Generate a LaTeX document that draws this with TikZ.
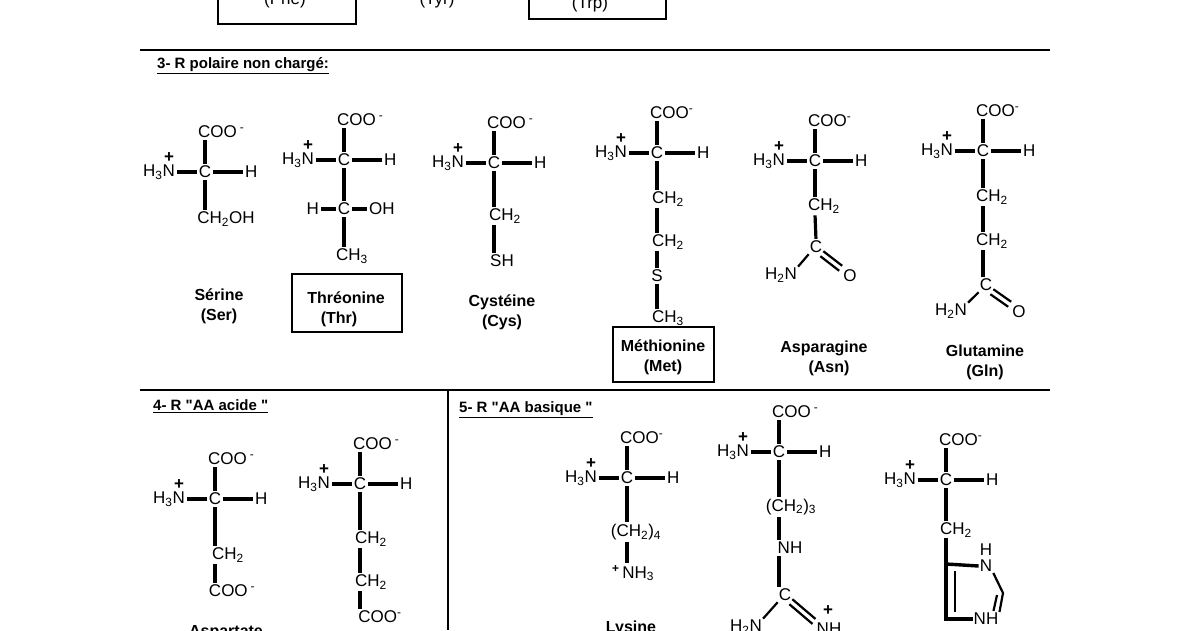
\documentclass[tikz,border=0pt]{standalone}
\usepackage{fontspec}
\newfontfamily\arial{Liberation Sans}
\usetikzlibrary{calc}
\newcommand\chemf{\arial\fontsize{17}{19}\selectfont}
\newcommand\namef{\arial\bfseries\fontsize{16}{20}\selectfont}
\newcommand\headf{\arial\bfseries\fontsize{15}{17}\selectfont}
\tikzset{t/.style={inner sep=1pt,font=\chemf},
  nm/.style={inner sep=1pt,font=\namef,align=center},
  hd/.style={inner sep=0pt,font=\headf,anchor=west},
  b/.style={line width=3.2pt,shorten <=1pt,shorten >=1pt},
  dl/.style={line width=2.2pt},
  rule/.style={line width=2.6pt},
  box/.style={draw,line width=1.8pt,inner sep=0pt}}
\newcommand\aatop[4][COO\,\textsuperscript{-}]{%
  \node[t,anchor=west] (#2-coo) at (#3-8,#4-40) {#1};
  \node[t,anchor=east] (#2-n) at (#3-29,#4) {H\textsubscript{3}N};
  \node[t] (#2-p) at (#3-36,#4-14) {\textbf{+}};
  \node[t] (#2-c) at (#3,#4) {C};
  \node[t,anchor=west] (#2-h) at (#3+39,#4) {H};
  \draw[b] (#2-c.north) -- (#2-c.north |- #2-coo.south);
  \draw[b] (#2-n) -- (#2-c);
  \draw[b] (#2-c) -- (#2-h);}
\newcommand\bd[2]{\draw[b] (#1.south) -- (#1.south |- #2.north);}
\begin{document}
\begin{tikzpicture}[x=1pt,y=-1pt]
\useasboundingbox (0,0) rectangle (1200,630);
\clip (0,0) rectangle (1200,630);
% top remnants
\node[box,minimum width=138pt,minimum height=50pt,anchor=south west] (phe) at (217,25) {};
\node[nm,font=\chemf] (phet) at (285,0) {(Phe)};
\node[nm,font=\chemf] (tyr) at (437,0) {(Tyr)};
\node[box,minimum width=137pt,minimum height=50pt,anchor=south west] (trp) at (528,20) {};
\node[nm,font=\chemf] (trpt) at (590,4) {(Trp)};
\coordinate (l1a) at (140,50); \coordinate (l1b) at (1050,50);
\draw[rule] (l1a) -- (l1b);
\node[hd] (h3) at (157,66) {\underline{3- R polaire non chargé:}};
% Serine
\aatop{ser}{205}{172}
\node[t] (ser-r) at (226,219) {CH\textsubscript{2}OH};
\draw[b] (ser-c.south) -- (ser-c.south |- ser-r.north);
\node[nm] (sern) at (219,306) {Sérine\\(Ser)};
% Threonine
\aatop{thr}{344}{160}
\node[t] (thr-c2) at (344,209) {C};
\node[t,anchor=east] (thr-h2) at (320,209) {H};
\node[t,anchor=west] (thr-oh) at (368,209) {OH};
\node[t] (thr-me) at (352,256) {CH\textsubscript{3}};
\bd{thr-c}{thr-c2}
\draw[b] (thr-h2) -- (thr-c2); \draw[b] (thr-c2) -- (thr-oh);
\bd{thr-c2}{thr-me}
\node[box,minimum width=110pt,minimum height=58pt] (thrb) at (347,303) {};
\node[nm] (thrn) at (346,309) {Thréonine\\\hspace*{-14pt}(Thr)};
% Cysteine
\aatop{cys}{494}{163}
\node[t] (cys-r) at (505,216) {CH\textsubscript{2}};
\node[t] (cys-s) at (502,261) {SH};
\bd{cys-c}{cys-r}
\draw[b] (cys-c.south |- cys-r.south) -- (cys-c.south |- cys-s.north);
\node[nm] (cysn) at (502,312) {Cystéine\\(Cys)};
% Methionine
\aatop[COO\textsuperscript{-}]{met}{657}{153}
\node[t] (met-a) at (668,199) {CH\textsubscript{2}};
\node[t] (met-b) at (668,242) {CH\textsubscript{2}};
\node[t] (met-s) at (657,276) {S};
\node[t] (met-m) at (668,318) {CH\textsubscript{3}};
\bd{met-c}{met-a}
\draw[b] (met-c.south |- met-a.south) -- (met-c.south |- met-b.north);
\draw[b] (met-c.south |- met-b.south) -- (met-s.north);
\bd{met-s}{met-m}
\node[box,fill=white,minimum width=101pt,minimum height=55pt] (metb) at (663.5,354.5) {};
\node[nm] (metn) at (663,357) {Méthionine\\(Met)};
% Asparagine
\aatop[COO\textsuperscript{-}]{asn}{815}{161}
\node[t] (asn-r) at (824,206) {CH\textsubscript{2}};
\node[t] (asn-c2) at (816,247) {C};
\node[t] (asn-n) at (781,275) {H\textsubscript{2}N};
\node[t] (asn-o) at (850,276) {O};
\bd{asn-c}{asn-r}
\draw[b] (asn-c.south |- asn-r.south) -- (asn-c2.north);
\draw[dl] (asn-c2.south west) -- (asn-n.north east);
\draw[dl] ($(asn-c2.south east)+(0,-3)$) -- ($(asn-o.north west)+(0,-3)$);
\draw[dl] ($(asn-c2.south east)+(-3,2)$) -- ($(asn-o.north west)+(-3,2)$);
\node[nm] (asnn) at (824,358) {Asparagine\\\hspace*{10pt}(Asn)};
% Glutamine
\aatop[COO\textsuperscript{-}]{gln}{983}{151}
\node[t] (gln-a) at (992,197) {CH\textsubscript{2}};
\node[t] (gln-b) at (992,241) {CH\textsubscript{2}};
\node[t] (gln-c2) at (986,285) {C};
\node[t] (gln-n) at (951,311) {H\textsubscript{2}N};
\node[t] (gln-o) at (1019,312) {O};
\bd{gln-c}{gln-a}
\draw[b] (gln-c.south |- gln-a.south) -- (gln-c.south |- gln-b.north);
\draw[b] (gln-c.south |- gln-b.south) -- (gln-c.south |- gln-c2.north);
\draw[dl] (gln-c2.south west) -- (gln-n.north east);
\draw[dl] ($(gln-c2.south east)+(0,-3)$) -- ($(gln-o.north west)+(0,-3)$);
\draw[dl] ($(gln-c2.south east)+(-3,2)$) -- ($(gln-o.north west)+(-3,2)$);
\node[nm] (glnn) at (985,362) {Glutamine\\(Gln)};
% separators
\coordinate (l2a) at (140,390); \coordinate (l2b) at (1050,390);
\draw[rule] (l2a) -- (l2b);
\coordinate (v1) at (448,390); \coordinate (v2) at (448,630);
\draw[rule] (v1) -- (v2);
\node[hd] (h4) at (153,406) {\underline{4- R "AA acide "}};
\node[hd] (h5) at (459,410) {\underline{5- R "AA basique "}};
% Aspartate
\aatop{asp}{215}{499}
\node[t] (asp-r) at (228,555) {CH\textsubscript{2}};
\node[t] (asp-o) at (232,591) {COO\,\textsuperscript{-}};
\bd{asp-c}{asp-r}
\draw[b] (asp-c.south |- asp-r.south) -- (asp-c.south |- asp-o.north);
\node[nm] (aspn) at (226,633) {Aspartate};
% Glutamate
\aatop{glu}{360}{484}
\node[t] (glu-a) at (371,539) {CH\textsubscript{2}};
\node[t] (glu-b) at (371,582) {CH\textsubscript{2}};
\node[t] (glu-o) at (380,617) {COO\textsuperscript{-}};
\bd{glu-c}{glu-a}
\draw[b] (glu-c.south |- glu-a.south) -- (glu-c.south |- glu-b.north);
\draw[b] (glu-c.south |- glu-b.south) -- (glu-c.south |- glu-o.north);
% Lysine
\aatop[COO\textsuperscript{-}]{lys}{627}{478}
\node[t] (lys-r) at (636,532) {(CH\textsubscript{2})\textsubscript{4}};
\node[t] (lys-n) at (633,573) {\textsuperscript{\textbf{+}}\,NH\textsubscript{3}};
\bd{lys-c}{lys-r}
\draw[b] (lys-c.south |- lys-r.south) -- (lys-c.south |- lys-n.north);
\node[nm] (lysn) at (631,628) {Lysine};
% Arginine
\aatop{arg}{779}{452}
\node[t] (arg-r) at (791,507) {(CH\textsubscript{2})\textsubscript{3}};
\node[t] (arg-nh) at (790,548) {NH};
\node[t] (arg-c2) at (785,595) {C};
\node[t] (arg-n) at (746,627) {H\textsubscript{2}N};
\node[t] (arg-n2) at (829,629) {NH};
\node[t] (arg-p) at (828,611) {\textbf{+}};
\bd{arg-c}{arg-r}
\draw[b] (arg-c.south |- arg-r.south) -- (arg-c.south |- arg-nh.north);
\draw[b] (arg-c.south |- arg-nh.south) -- (arg-c.south |- arg-c2.north);
\draw[dl] (arg-c2.south west) -- (arg-n.north east);
\draw[dl] ($(arg-c2.south east)+(0,-3)$) -- ($(arg-n2.north west)+(0,-3)$);
\draw[dl] ($(arg-c2.south east)+(-3,2)$) -- ($(arg-n2.north west)+(-3,2)$);
% Histidine
\aatop[COO\textsuperscript{-}]{his}{946}{480}
\node[t] (his-r) at (956,530) {CH\textsubscript{2}};
\coordinate (r1) at (946,564); \coordinate (r2) at (946,619);
\coordinate (r3) at (1003,593);
\node[t] (his-n1) at (986,566) {N};
\node[t] (his-h1) at (986,550) {H};
\node[t] (his-n2) at (986,619) {NH};
\bd{his-c}{his-r}
\draw[line width=3.4pt] (his-c.south |- his-r.south) -- (r2) -- (his-n2.west);
\draw[line width=3.4pt] (r1) -- (his-n1.west);
\draw[line width=2.4pt] (955,571) -- (955,612);
\draw[dl] (his-n1.south east) -- (r3) -- (his-n2.north east);
\draw[dl] ($(r3)+(-6,2)$) -- ($(his-n2.north east)+(-6,-1)$);
\end{tikzpicture}
\end{document}
